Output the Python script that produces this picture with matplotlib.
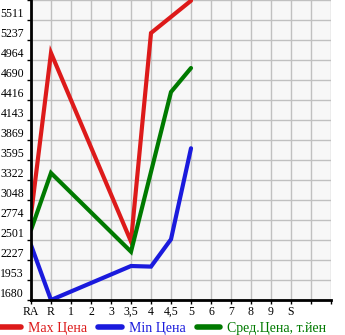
import matplotlib
matplotlib.use("Agg")
import matplotlib.pyplot as plt
from matplotlib.lines import Line2D

# категории (оценки аукциона)
grades = ['RA', 'R', '1', '2', '3', '3,5', '4', '4,5', '5', '6', '7', '8', '9', 'S', '']
yticks = [1680, 1953, 2227, 2501, 2774, 3048, 3322, 3595, 3869, 4143, 4416, 4690, 4964, 5237, 5511]

# позиции: RA, R, 3,5, 4, 4,5, 5
max_x = ['RA', 'R', '3,5', '4', '5']
max_price = [2843, 5060, 2480, 5333, 5775]
min_x = ['RA', 'R', '3,5', '4', '4,5', '5']
min_price = [2432, 1680, 2145, 2137, 2511, 3756]
avg_x = ['RA', 'R', '3,5', '4,5', '5']
avg_price = [2638, 3418, 2341, 4526, 4854]

red = '#dd1a1a'
blue = '#1a1add'
green = '#007a00'

plt.rcParams['font.family'] = ['Liberation Serif', 'DejaVu Serif']

fig = plt.figure(figsize=(3.45, 3.35), dpi=100)
ax = fig.add_axes([31/345, 35/335, 300/345, 300/335])
ax.set_facecolor('#f7f7f7')

pos = {g: i for i, g in enumerate(grades)}

ax.plot([pos[g] for g in max_x], max_price, color=red, lw=3, solid_capstyle='round', solid_joinstyle='miter')
ax.plot([pos[g] for g in min_x], min_price, color=blue, lw=3, solid_capstyle='round', solid_joinstyle='miter')
ax.plot([pos[g] for g in avg_x], avg_price, color=green, lw=3, solid_capstyle='round', solid_joinstyle='miter')

step = (yticks[-1] - yticks[0]) / (len(yticks) - 1)
ax.set_ylim(yticks[0], yticks[-1] + step)
ax.set_xlim(0, len(grades))

ax.set_xticks(range(len(grades) + 1))
ax.set_xticklabels(grades + [''])
ax.set_yticks(yticks + [yticks[-1] + step])
ax.set_yticklabels([str(v) for v in yticks] + [''])

for lbl in ax.get_yticklabels():
    lbl.set_verticalalignment('bottom')

ax.tick_params(axis='both', labelsize=8.5, length=3, width=1, color='black', pad=1)
ax.tick_params(axis='y', pad=2)
ax.grid(True, color='#c0c0c0', lw=1)
ax.set_axisbelow(True)

for s in ['top', 'right']:
    ax.spines[s].set_visible(False)
for s in ['left', 'bottom']:
    ax.spines[s].set_linewidth(2)
    ax.spines[s].set_zorder(5)

handles = [Line2D([], [], color=c, lw=4, solid_capstyle='round') for c in (red, blue, green)]
labels = ['Max Цена', 'Min Цена', 'Сред.Цена, т.йен']
leg = fig.legend(handles, labels, loc='lower left', bbox_to_anchor=(-0.035, -0.03), ncol=3,
                 frameon=False, fontsize=10, handlelength=1.7, handletextpad=0.5,
                 columnspacing=0.8, borderpad=0.2)
for t, c in zip(leg.get_texts(), (red, blue, green)):
    t.set_color(c)

fig.savefig('out.png', dpi=100)
